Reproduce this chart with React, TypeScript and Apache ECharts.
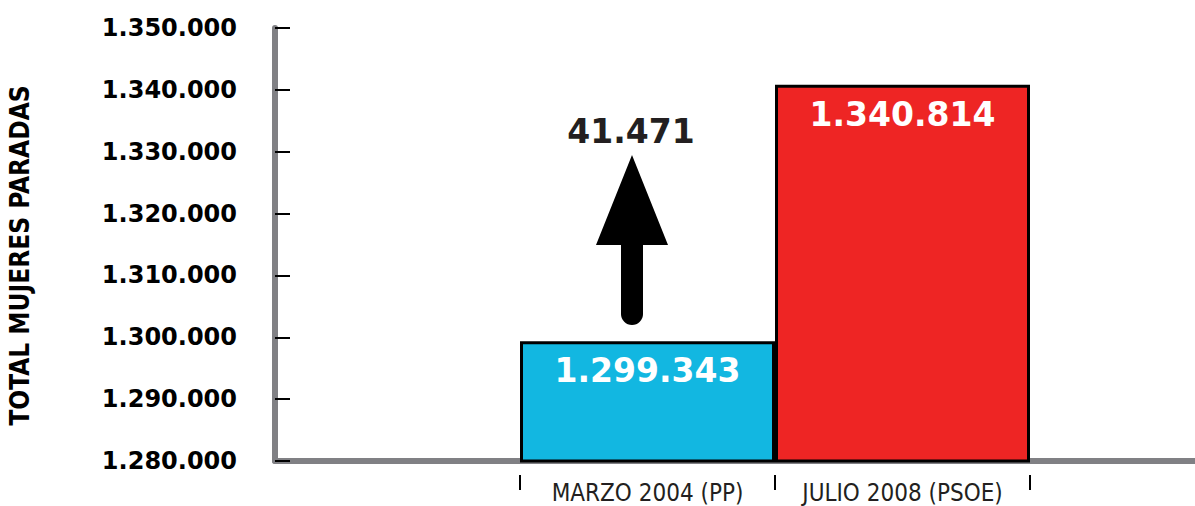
import React, { useEffect, useRef } from "react";
import * as echarts from "echarts";

const categories = ["MARZO 2004 (PP)", "JULIO 2008 (PSOE)"];
const values = [1299343, 1340814];
const barColors = ["#12B7E1", "#EE2524"];
const yMin = 1280000;
const yMax = 1350000;
const yStep = 10000;
const yAxisTitle = "TOTAL MUJERES PARADAS";

const fmt = (v: number) => Math.round(v).toString().replace(/\B(?=(\d{3})+(?!\d))/g, ".");

const NARROW = "'Liberation Sans Narrow', 'DejaVu Sans Condensed', 'Liberation Sans', sans-serif";
const WIDE = "'DejaVu Sans', 'Liberation Sans', sans-serif";
const GRAY = "#808084";
const DARK = "#231F20";

export default function App() {
  const ref = useRef<HTMLDivElement>(null);
  useEffect(() => {
    if (!ref.current) return;
    const chart = echarts.init(ref.current, null, { renderer: "svg" });
    const diff = values[1] - values[0];
    chart.setOption({
      animation: false,
      backgroundColor: "#ffffff",
      grid: [
        { left: 275, right: 0, top: 28, bottom: 45, containLabel: false, outerBoundsMode: "none" },
        { left: 520, right: 165, top: 28, bottom: 45, containLabel: false, outerBoundsMode: "none" },
      ],
      xAxis: [
        {
          gridIndex: 0,
          type: "value",
          min: 0,
          max: 1,
          axisLine: { show: true, lineStyle: { color: GRAY, width: 6 } },
          axisTick: { show: false },
          axisLabel: { show: false },
          splitLine: { show: false },
        },
        {
          gridIndex: 1,
          type: "category",
          data: categories,
          offset: 14,
          axisLine: { show: false },
          axisTick: { show: true, interval: 0, length: 15, lineStyle: { color: "#000", width: 2 } },
          axisLabel: { interval: 0, margin: 6, color: DARK, fontFamily: NARROW, fontSize: 24 },
          splitLine: { show: false },
        },
      ],
      yAxis: [
        {
          gridIndex: 0,
          type: "value",
          min: yMin,
          max: yMax,
          interval: yStep,
          name: yAxisTitle,
          nameLocation: "middle",
          nameRotate: 90,
          nameGap: 242,
          nameTextStyle: {
            color: "#000",
            fontFamily: NARROW,
            fontWeight: "bold",
            fontSize: 26,
            padding: [0, 22, 0, 0],
          },
          axisLine: { show: true, lineStyle: { color: GRAY, width: 6 } },
          axisTick: { show: true, inside: true, length: 15, lineStyle: { color: "#000", width: 2 } },
          axisLabel: {
            margin: 38,
            color: "#000",
            fontFamily: WIDE,
            fontWeight: "bold",
            fontSize: 24,
            formatter: (v: number) => fmt(v),
          },
          splitLine: { show: false },
        },
        {
          gridIndex: 1,
          type: "value",
          min: yMin,
          max: yMax,
          interval: yStep,
          show: false,
        },
      ],
      series: [
        {
          type: "bar",
          xAxisIndex: 1,
          yAxisIndex: 1,
          barCategoryGap: "0%",
          data: values.map((v, i) => ({
            value: v,
            itemStyle: { color: barColors[i], borderColor: "#000", borderWidth: 3 },
          })),
          label: {
            show: true,
            position: "insideTop",
            distance: 13,
            color: "#fff",
            fontFamily: WIDE,
            fontWeight: "bold",
            fontSize: 33,
            formatter: (p: any) => fmt(p.value),
          },
        },
      ],
      graphic: [
        {
          type: "polygon",
          shape: { points: [[596, 245], [632, 155], [668, 245]] },
          style: { fill: "#000" },
        },
        {
          type: "rect",
          shape: { x: 621, y: 240, width: 22, height: 85, r: [0, 0, 11, 11] },
          style: { fill: "#000" },
        },
        {
          type: "text",
          x: 631,
          y: 131,
          style: {
            text: fmt(diff),
            fill: DARK,
            font: `bold 33px ${WIDE}`,
            align: "center",
            verticalAlign: "middle",
          },
        },
      ],
    });
    return () => chart.dispose();
  }, []);
  return (
    <div
      ref={ref}
      style={{ position: "fixed", left: 0, top: 0, width: 1195, height: 506, background: "#fff" }}
    />
  );
}
